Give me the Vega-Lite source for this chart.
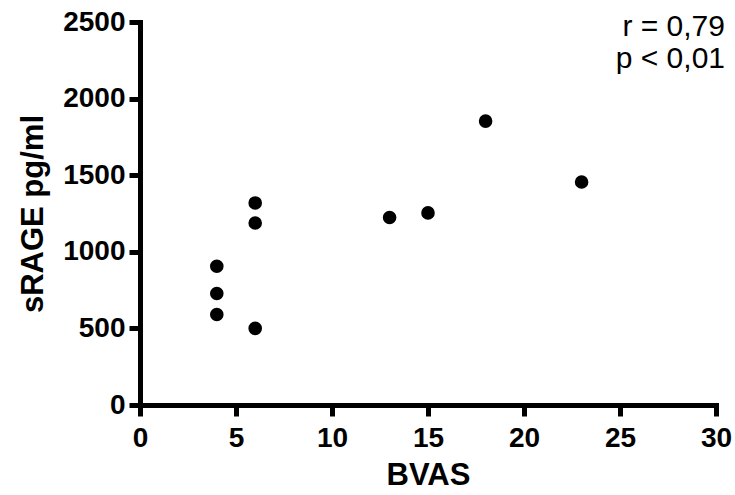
{
  "$schema": "https://vega.github.io/schema/vega-lite/v6.json",
  "autosize": "none",
  "padding": {"left": 140, "top": 22, "right": 19, "bottom": 90},
  "width": 576,
  "height": 383,
  "background": "white",
  "config": {
    "view": {"stroke": null},
    "font": "Liberation Sans"
  },
  "layer": [
    {
      "data": {
        "values": [
          {"BVAS": 4, "sRAGE": 906},
          {"BVAS": 4, "sRAGE": 728},
          {"BVAS": 4, "sRAGE": 591},
          {"BVAS": 6, "sRAGE": 1319},
          {"BVAS": 6, "sRAGE": 1188},
          {"BVAS": 6, "sRAGE": 500},
          {"BVAS": 13, "sRAGE": 1224},
          {"BVAS": 15, "sRAGE": 1254},
          {"BVAS": 18, "sRAGE": 1853},
          {"BVAS": 23, "sRAGE": 1456}
        ]
      },
      "mark": {"type": "circle", "color": "black", "opacity": 1, "size": 185},
      "encoding": {
        "x": {
          "field": "BVAS",
          "type": "quantitative",
          "scale": {"domain": [0, 30], "nice": false},
          "axis": {
            "values": [0, 5, 10, 15, 20, 25, 30], "format": "d", "grid": false, "labelFlush": false, "labelOverlap": false,
            "domainColor": "black", "domainWidth": 5, "domainCap": "square", "tickColor": "black", "tickWidth": 5, "tickSize": 11,
            "labelFont": "Liberation Sans", "labelFontWeight": "bold", "labelFontSize": 28, "labelColor": "black", "labelPadding": 8,
            "title": "BVAS", "titleFont": "Liberation Sans", "titleFontWeight": "bold", "titleFontSize": 31, "titleColor": "black", "titlePadding": 8
          }
        },
        "y": {
          "field": "sRAGE",
          "type": "quantitative",
          "scale": {"domain": [0, 2500], "nice": false},
          "axis": {
            "values": [0, 500, 1000, 1500, 2000, 2500], "format": "d", "grid": false, "labelFlush": false, "labelOverlap": false,
            "domainColor": "black", "domainWidth": 5, "domainCap": "square", "tickColor": "black", "tickWidth": 5, "tickSize": 11,
            "labelFont": "Liberation Sans", "labelFontWeight": "bold", "labelFontSize": 28, "labelColor": "black", "labelPadding": 4,
            "title": "sRAGE pg/ml", "titleFont": "Liberation Sans", "titleFontWeight": "bold", "titleFontSize": 31, "titleColor": "black", "titlePadding": 13
          }
        }
      }
    },
    {
      "data": {
        "values": [
          {"label": "r = 0,79", "x": 30, "y": 2409},
          {"label": "p < 0,01", "x": 30, "y": 2200}
        ]
      },
      "mark": {"type": "text", "align": "right", "baseline": "alphabetic", "dx": 9, "fontSize": 30, "font": "Liberation Sans", "color": "black"},
      "encoding": {
        "x": {"field": "x", "type": "quantitative"},
        "y": {"field": "y", "type": "quantitative"},
        "text": {"field": "label"}
      }
    }
  ]
}
